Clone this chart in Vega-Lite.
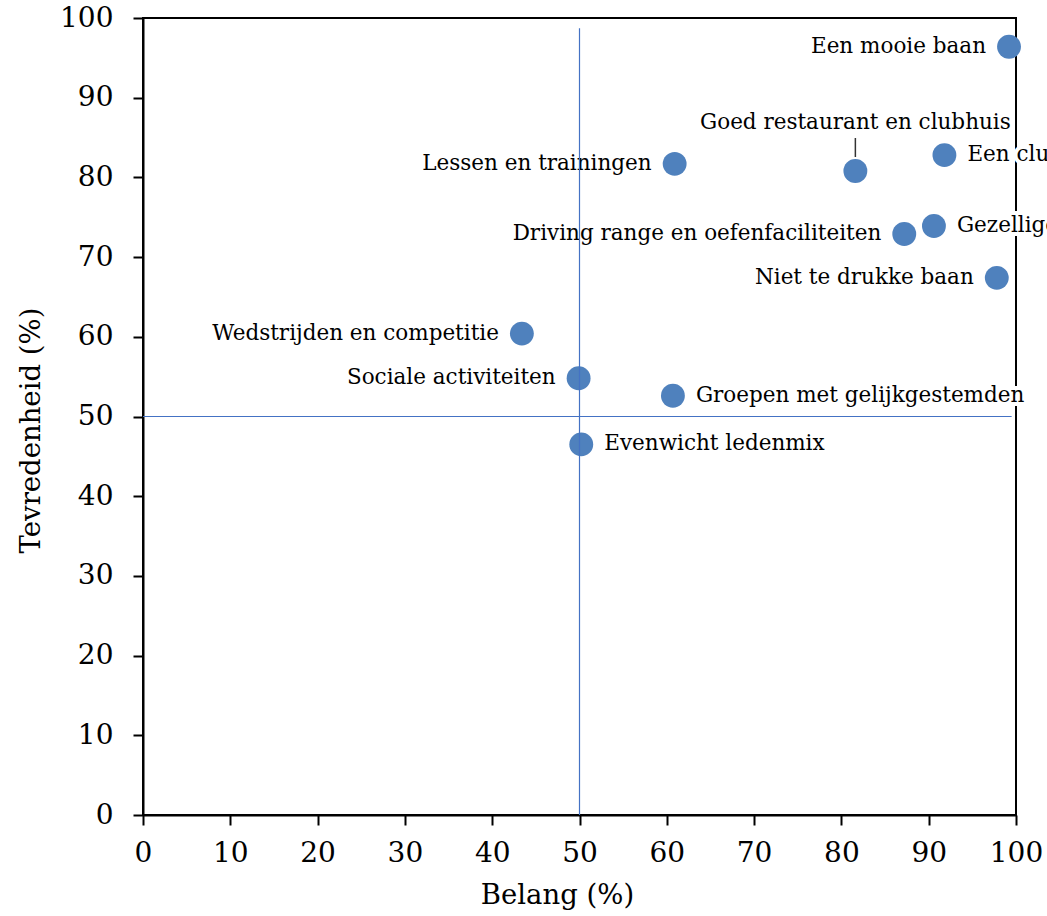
{
  "$schema": "https://vega.github.io/schema/vega-lite/v6.json",
  "width": 873,
  "height": 797,
  "autosize": {"type": "none"},
  "padding": {"left": 143, "top": 18, "right": 31, "bottom": 101},
  "background": "white",
  "config": {
    "view": {"stroke": "black", "strokeWidth": 2},
    "font": "DejaVu Serif",
    "axis": {
      "grid": false,
      "domainColor": "black",
      "domainWidth": 2,
      "tickColor": "black",
      "tickWidth": 2,
      "tickSize": 10,
      "labelFlush": false,
      "labelOverlap": false,
      "labelFont": "DejaVu Serif",
      "labelFontSize": 28,
      "labelColor": "black",
      "titleFont": "DejaVu Serif",
      "titleFontSize": 27.5,
      "titleFontWeight": "normal",
      "titleColor": "black"
    }
  },
  "datasets": {
    "punten": [
      {"naam": "Een mooie baan", "belang": 99.2, "tevredenheid": 96.4},
      {"naam": "Goed restaurant en clubhuis", "belang": 81.6, "tevredenheid": 80.8},
      {"naam": "Een clubgevoel", "belang": 91.8, "tevredenheid": 82.8},
      {"naam": "Lessen en trainingen", "belang": 60.9, "tevredenheid": 81.7},
      {"naam": "Driving range en oefenfaciliteiten", "belang": 87.2, "tevredenheid": 72.9},
      {"naam": "Gezellige sfeer", "belang": 90.6, "tevredenheid": 73.9},
      {"naam": "Niet te drukke baan", "belang": 97.8, "tevredenheid": 67.4},
      {"naam": "Wedstrijden en competitie", "belang": 43.4, "tevredenheid": 60.4},
      {"naam": "Sociale activiteiten", "belang": 49.9, "tevredenheid": 54.8},
      {"naam": "Groepen met gelijkgestemden", "belang": 60.7, "tevredenheid": 52.6},
      {"naam": "Evenwicht ledenmix", "belang": 50.2, "tevredenheid": 46.5}
    ],
    "lijnen": [
      {"x": 50, "x2": 50, "y": 0, "y2": 98.7},
      {"x": 0, "x2": 99.5, "y": 50, "y2": 50}
    ]
  },
  "layer": [
    {
      "data": {"name": "punten"},
      "transform": [{"filter": {"field": "naam", "oneOf": ["Een clubgevoel", "Gezellige sfeer", "Groepen met gelijkgestemden", "Evenwicht ledenmix"]}}],
      "mark": {"type": "text", "align": "left", "baseline": "middle", "dx": 23, "fontSize": 21.5, "font": "DejaVu Serif", "stroke": "white", "strokeWidth": 8, "fill": "white"},
      "encoding": {
        "x": {"field": "belang", "type": "quantitative", "scale": {"domain": [0, 100]}, "axis": {"values": [0,10,20,30,40,50,60,70,80,90,100], "title": "Belang (%)", "labelPadding": 14, "titlePadding": 14, "titleX": 414}},
        "y": {"field": "tevredenheid", "type": "quantitative", "scale": {"domain": [0, 100]}, "axis": {"values": [0,10,20,30,40,50,60,70,80,90,100], "title": "Tevredenheid (%)", "labelPadding": 20, "titlePadding": 14, "titleY": 412}},
        "text": {"field": "naam"}
      }
    },
    {
      "data": {"name": "punten"},
      "transform": [{"filter": {"field": "naam", "oneOf": ["Een clubgevoel", "Gezellige sfeer", "Groepen met gelijkgestemden", "Evenwicht ledenmix"]}}],
      "mark": {"type": "text", "align": "left", "baseline": "middle", "dx": 23, "fontSize": 21.5, "font": "DejaVu Serif", "color": "black"},
      "encoding": {
        "x": {"field": "belang", "type": "quantitative"},
        "y": {"field": "tevredenheid", "type": "quantitative"},
        "text": {"field": "naam"}
      }
    },
    {
      "data": {"name": "punten"},
      "transform": [{"filter": {"field": "naam", "oneOf": ["Een mooie baan", "Lessen en trainingen", "Driving range en oefenfaciliteiten", "Niet te drukke baan", "Wedstrijden en competitie", "Sociale activiteiten"]}}],
      "mark": {"type": "text", "align": "right", "baseline": "middle", "dx": -23, "fontSize": 21.5, "font": "DejaVu Serif", "color": "black"},
      "encoding": {
        "x": {"field": "belang", "type": "quantitative"},
        "y": {"field": "tevredenheid", "type": "quantitative"},
        "text": {"field": "naam"}
      }
    },
    {
      "data": {"name": "punten"},
      "transform": [{"filter": {"field": "naam", "equal": "Goed restaurant en clubhuis"}}],
      "mark": {"type": "text", "align": "center", "baseline": "middle", "dy": -48, "fontSize": 21.5, "font": "DejaVu Serif", "color": "black"},
      "encoding": {
        "x": {"field": "belang", "type": "quantitative"},
        "y": {"field": "tevredenheid", "type": "quantitative"},
        "text": {"field": "naam"}
      }
    },
    {
      "data": {"name": "punten"},
      "transform": [{"filter": {"field": "naam", "equal": "Goed restaurant en clubhuis"}}],
      "mark": {"type": "rule", "color": "#333333", "strokeWidth": 1.5, "yOffset": -14, "y2Offset": -33},
      "encoding": {
        "x": {"field": "belang", "type": "quantitative"},
        "y": {"field": "tevredenheid", "type": "quantitative"},
        "y2": {"field": "tevredenheid"}
      }
    },
    {
      "data": {"name": "punten"},
      "mark": {"type": "circle", "size": 570, "opacity": 1, "color": "#4F81BD"},
      "encoding": {
        "x": {"field": "belang", "type": "quantitative"},
        "y": {"field": "tevredenheid", "type": "quantitative"}
      }
    },
    {
      "data": {"name": "lijnen"},
      "mark": {"type": "rule", "color": "#4472C4", "strokeWidth": 1.2},
      "encoding": {
        "x": {"field": "x", "type": "quantitative"},
        "x2": {"field": "x2"},
        "y": {"field": "y", "type": "quantitative"},
        "y2": {"field": "y2"}
      }
    }
  ]
}
